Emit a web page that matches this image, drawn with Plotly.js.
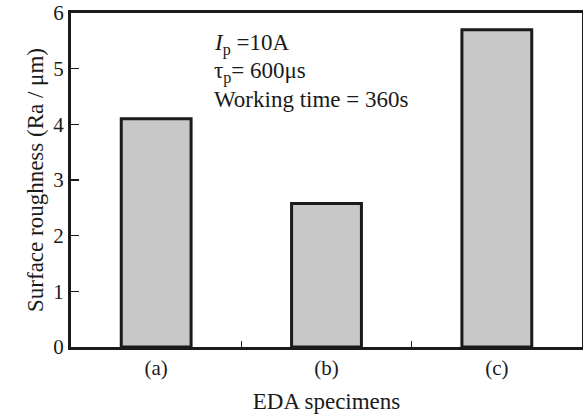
<!DOCTYPE html>
<html><head><meta charset="utf-8">
<script src="https://cdn.plot.ly/plotly-3.0.1.min.js"></script>
<style>html,body{margin:0;padding:0;background:#fff}#c{width:583px;height:418px}</style>
</head><body><div id="c"></div>
<script>
const categories = ['(a)', '(b)', '(c)'];
const roughness = [4.1, 2.58, 5.7];
const yTicks = [0, 1, 2, 3, 4, 5, 6];
const notes = ['<i>I</i><sub>p</sub> =10A', 'τ<sub>p</sub>= 600μs', 'Working time = 360s'];

const fam = '"Liberation Serif", "Times New Roman", serif';
const tickFont = {family: fam, size: 21, color: '#1a1a1a'};
const titleFont = {family: fam, size: 23, color: '#1a1a1a'};
const data = [{
  type: 'bar', x: categories, y: roughness, width: 0.41,
  marker: {color: '#c8c8c8', line: {color: '#1a1a1a', width: 3}},
  hoverinfo: 'none'
}];
const layout = {
  width: 583, height: 418,
  margin: {l: 71, r: 1, t: 13, b: 71},
  paper_bgcolor: '#fff', plot_bgcolor: '#fff',
  font: tickFont, showlegend: false,
  xaxis: {type: 'category', range: [-0.5, 2.5], tickson: 'boundaries', ticks: 'inside', ticklen: 6,
    tickcolor: '#1a1a1a', tickwidth: 1.5, showgrid: false, showline: true, linecolor: '#1a1a1a', linewidth: 3, mirror: true,
    tickfont: tickFont, title: {text: 'EDA specimens', font: titleFont, standoff: 14}},
  yaxis: {range: [0, 6], tickvals: yTicks, ticks: 'inside', ticklen: 8, tickcolor: '#1a1a1a', tickwidth: 1.5,
    ticklabeloverflow: 'allow',
    showgrid: false, zeroline: false, showline: true, linecolor: '#1a1a1a', linewidth: 3, mirror: true,
    tickfont: tickFont, title: {text: 'Surface roughness (Ra / μm)', font: titleFont, standoff: 4}},
  annotations: notes.map((t, i) => ({
    text: t, xref: 'paper', yref: 'paper', x: (212 - 71) / 511, y: (347 - 45 - 27 * i) / 334,
    xanchor: 'left', yanchor: 'middle', showarrow: false,
    font: {family: fam, size: 23, color: '#1a1a1a'}
  }))
};
Plotly.newPlot('c', data, layout, {staticPlot: true});
</script></body></html>
